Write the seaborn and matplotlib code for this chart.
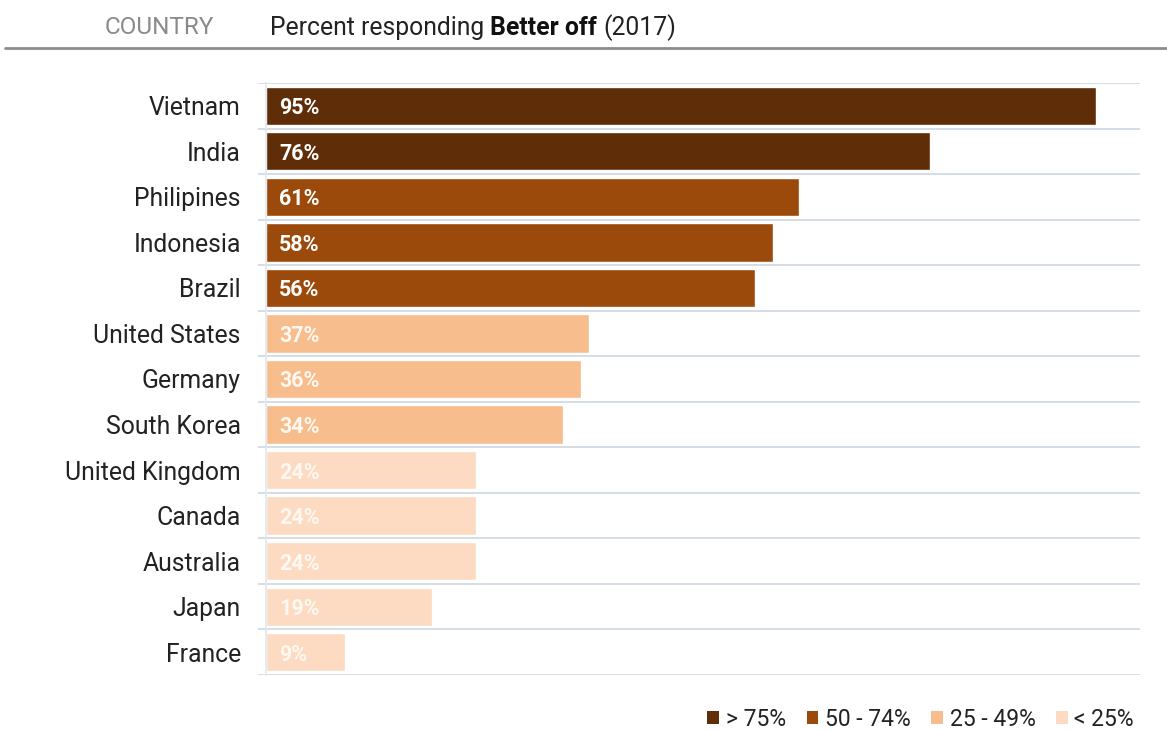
import matplotlib
matplotlib.use("Agg")
import matplotlib.pyplot as plt
import seaborn as sns
import pandas as pd
from matplotlib.patches import Patch

countries = ["Vietnam", "India", "Philipines", "Indonesia", "Brazil", "United States",
             "Germany", "South Korea", "United Kingdom", "Canada", "Australia", "Japan", "France"]
values = [95, 76, 61, 58, 56, 37, 36, 34, 24, 24, 24, 19, 9]
bins = ["> 75%", "> 75%", "50 - 74%", "50 - 74%", "50 - 74%", "25 - 49%", "25 - 49%",
        "25 - 49%", "< 25%", "< 25%", "< 25%", "< 25%", "< 25%"]
bin_order = ["> 75%", "50 - 74%", "25 - 49%", "< 25%"]
bin_colors = ["#5F2D07", "#9B4A0B", "#F7BD8D", "#FCDBC2"]

sns.set_theme(style="white")
plt.rcParams["font.family"] = ["Roboto", "DejaVu Sans"]

df = pd.DataFrame({"country": countries, "value": values, "bin": bins})

fig = plt.figure(figsize=(11.67, 7.3), dpi=100)
ax = fig.add_axes([258 / 1167, 1 - 675 / 730, (1140 - 258) / 1167, (675 - 83) / 730])

sns.barplot(data=df, x="value", y="country", hue="bin", hue_order=bin_order,
            palette=dict(zip(bin_order, bin_colors)), dodge=False, width=0.84,
            orient="h", ax=ax, legend=False, saturation=1)

ax.set_xlim(-0.9, 100)
ax.set_ylim(len(countries) - 0.5, -0.5)
ax.set_xlabel("")
ax.set_ylabel("")
ax.set_xticks([])
ax.set_yticks(range(len(countries)))
ax.set_yticklabels(countries, va="center_baseline")
ax.set_yticks([i - 0.5 for i in range(len(countries) + 1)], minor=True)
ax.tick_params(axis="y", which="major", length=0, pad=18, labelsize=17.8, labelcolor="#222222")
ax.tick_params(axis="y", which="minor", length=0)
ax.grid(True, axis="y", which="minor", color="#D3DAE2", linewidth=1.3)
ax.set_axisbelow(True)
for s in ["top", "right", "bottom"]:
    ax.spines[s].set_visible(False)
ax.spines["left"].set_color("#E2E8EE")
ax.spines["left"].set_position(("data", 0))

for i, v in enumerate(values):
    ax.text(1.5, i, f"{v}%", va="center_baseline", ha="left", fontsize=15.5, fontweight="bold",
            color="#FFFFFF" if v >= 50 else "#FFF8F0")

# header
hy = 1 - 28 / 730
fig.text(105 / 1167, hy, "COUNTRY", fontsize=17.5, color="#8A8A8A", va="center", ha="left")
t1 = fig.text(270 / 1167, hy, "Percent responding ", fontsize=17.8, color="#222222",
              va="center", ha="left")
fig.canvas.draw()
r = fig.canvas.get_renderer()
bb = t1.get_window_extent(r)
t2 = fig.text(bb.x1 / 1167, hy, "Better off", fontsize=17.8, color="#111111",
              fontweight="bold", va="center", ha="left")
bb2 = t2.get_window_extent(r)
fig.text(bb2.x1 / 1167 + 6 / 1167, hy, "(2017)", fontsize=17.8, color="#222222",
         va="center", ha="left")
fig.add_artist(plt.Line2D([5 / 1167, 1], [1 - 48 / 730, 1 - 48 / 730], color="#8C8C8C",
                          linewidth=2, transform=fig.transFigure))

handles = [Patch(facecolor=c, edgecolor="none") for c in bin_colors]
fig.legend(handles, bin_order, loc="center right", bbox_to_anchor=(1134 / 1167, 1 - 719 / 730),
           ncol=4, frameon=False, fontsize=16.5, handlelength=0.5, handleheight=0.5,
           handletextpad=0.3, columnspacing=0.9, labelcolor="#222222",
           borderpad=0, borderaxespad=0)

fig.savefig("out.png", dpi=100, facecolor="white")
